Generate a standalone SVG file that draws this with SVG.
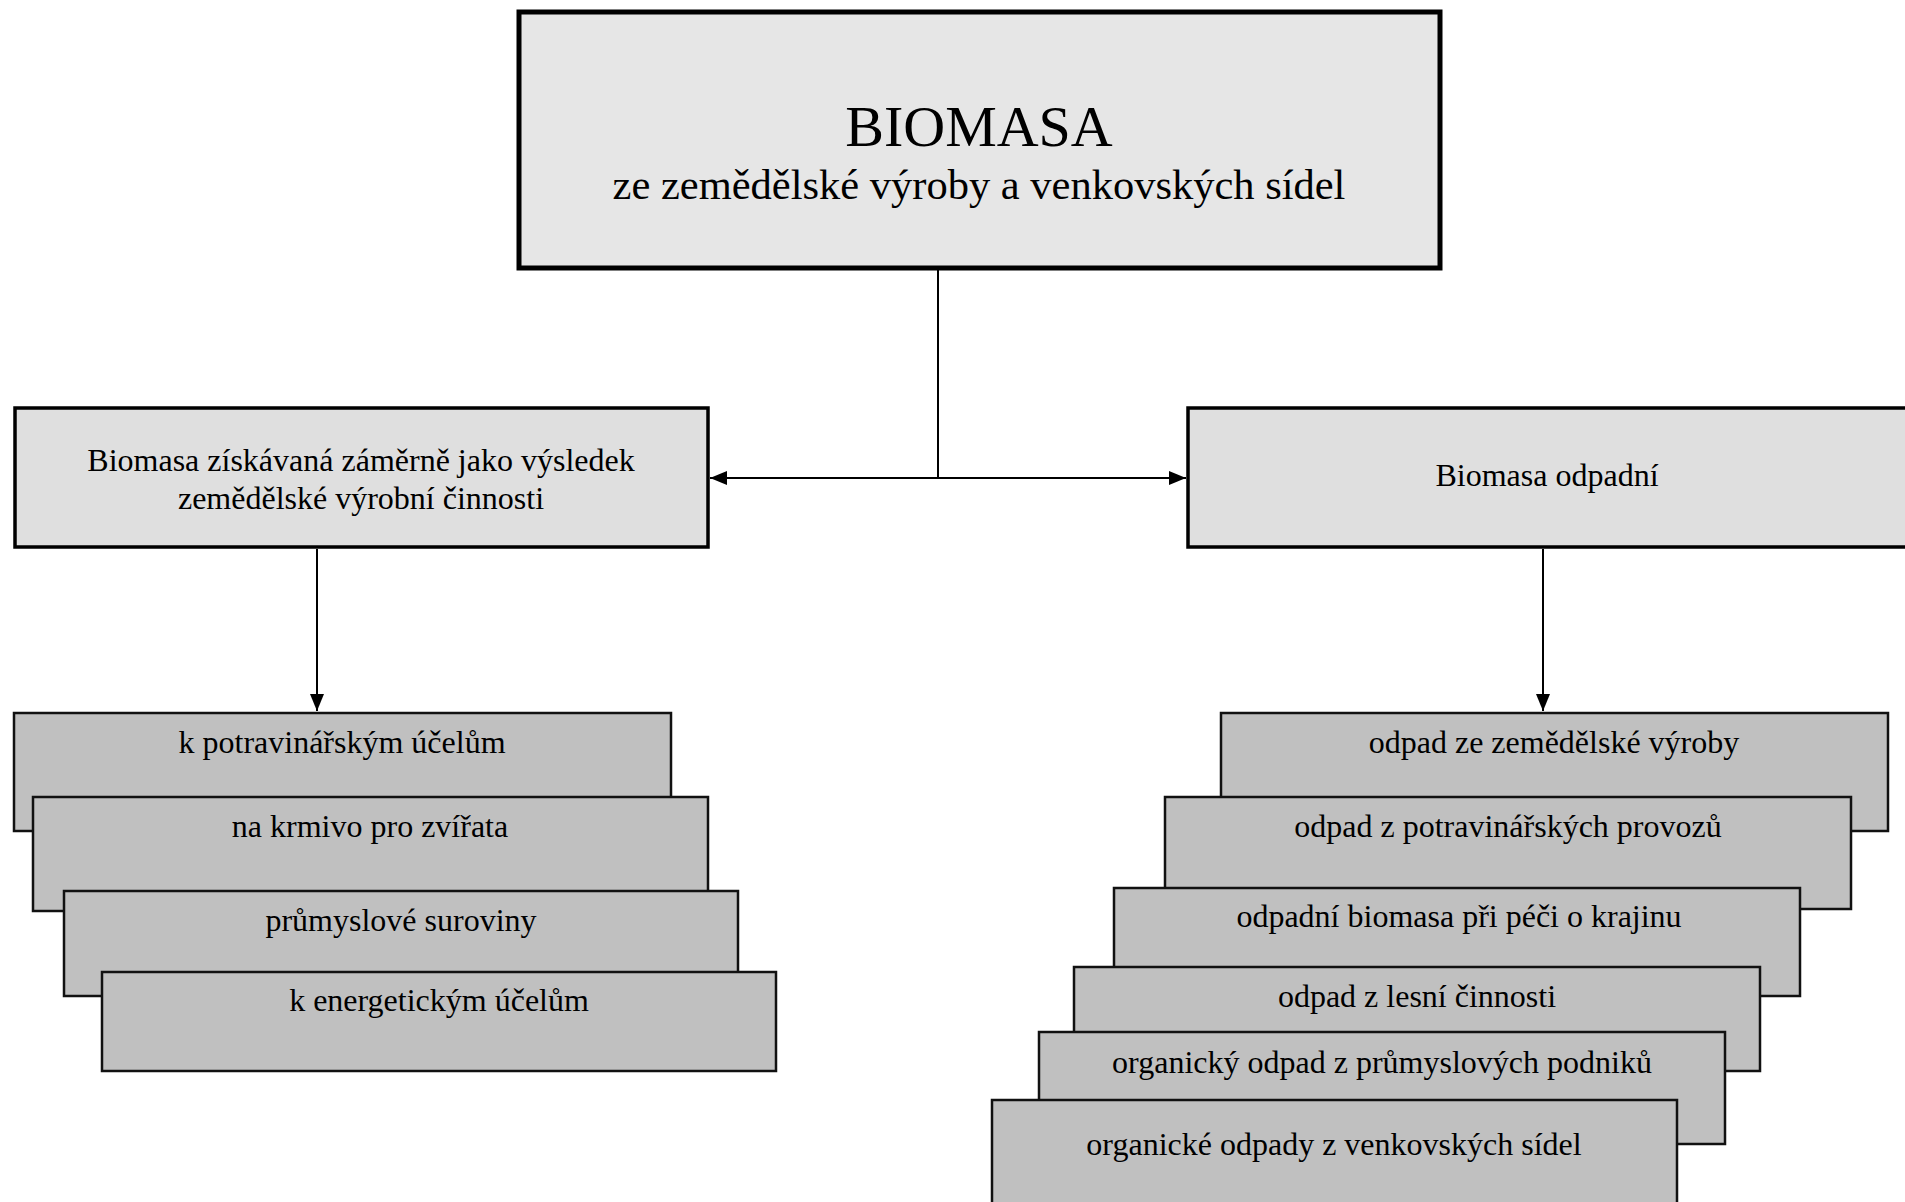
<svg xmlns="http://www.w3.org/2000/svg" width="1905" height="1202" viewBox="0 0 1905 1202">
<style>
text{font-family:"Liberation Serif","Times New Roman",serif;fill:#000;text-anchor:middle}
.t{font-size:32px}
.item{fill:#c0c0c0;stroke:#111;stroke-width:2.5}
.mid{fill:#dfdfdf;stroke:#000;stroke-width:3.5}
.conn{stroke:#000;stroke-width:2;fill:none}
</style>
<defs>
<marker id="ah" markerUnits="userSpaceOnUse" markerWidth="18" markerHeight="14" refX="17" refY="7" orient="auto">
<path d="M0,0 L17,7 L0,14 Z" fill="#000"/>
</marker>
</defs>
<rect width="1905" height="1202" fill="#fff"/>
<g id="connectors">
<path class="conn" d="M938,268 V478"/>
<path class="conn" d="M938,478 H710" marker-end="url(#ah)"/>
<path class="conn" d="M938,478 H1186" marker-end="url(#ah)"/>
<path class="conn" d="M317,549 V711" marker-end="url(#ah)"/>
<path class="conn" d="M1543,549 V711" marker-end="url(#ah)"/>
</g>
<g id="biomasa">
<rect x="519" y="12" width="921" height="256" fill="#e6e6e6" stroke="#000" stroke-width="5"/>
<text x="979" y="146" style="font-size:58px">BIOMASA</text>
<text x="979" y="199" style="font-size:42.5px">ze zemědělské výroby a venkovských sídel</text>
</g>
<g id="zamerne">
<rect class="mid" x="15" y="408" width="693" height="139"/>
<text class="t" x="361" y="471">Biomasa získávaná záměrně jako výsledek</text>
<text class="t" x="361" y="509">zemědělské výrobní činnosti</text>
</g>
<g id="odpadni">
<rect class="mid" x="1188" y="408" width="720" height="139"/>
<text class="t" x="1547" y="486">Biomasa odpadní</text>
</g>
<g id="l1"><rect class="item" x="14" y="713" width="657" height="118"/><text class="t" x="342" y="753">k potravinářským účelům</text></g>
<g id="l2"><rect class="item" x="33" y="797" width="675" height="114"/><text class="t" x="370" y="837">na krmivo pro zvířata</text></g>
<g id="l3"><rect class="item" x="64" y="891" width="674" height="105"/><text class="t" x="401" y="931">průmyslové suroviny</text></g>
<g id="l4"><rect class="item" x="102" y="972" width="674" height="99"/><text class="t" x="439" y="1011">k energetickým účelům</text></g>
<g id="r1"><rect class="item" x="1221" y="713" width="667" height="118"/><text class="t" x="1554" y="753">odpad ze zemědělské výroby</text></g>
<g id="r2"><rect class="item" x="1165" y="797" width="686" height="112"/><text class="t" x="1508" y="837">odpad z potravinářských provozů</text></g>
<g id="r3"><rect class="item" x="1114" y="888" width="686" height="108"/><text class="t" x="1459" y="927">odpadní biomasa při péči o krajinu</text></g>
<g id="r4"><rect class="item" x="1074" y="967" width="686" height="104"/><text class="t" x="1417" y="1007">odpad z lesní činnosti</text></g>
<g id="r5"><rect class="item" x="1039" y="1032" width="686" height="112"/><text class="t" x="1382" y="1073">organický odpad z průmyslových podniků</text></g>
<g id="r6"><rect class="item" x="992" y="1100" width="685" height="110"/><text class="t" x="1334" y="1155">organické odpady z venkovských sídel</text></g>
</svg>
